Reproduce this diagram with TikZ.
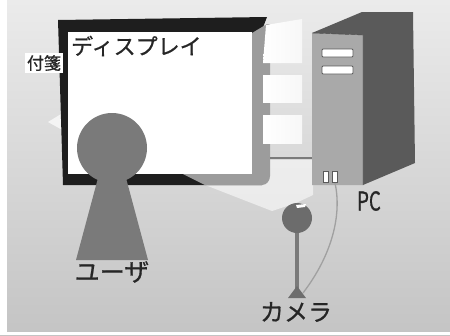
\documentclass[tikz,border=0pt]{standalone}
\usepackage{fontspec}
\setmainfont{Noto Sans CJK JP}[FakeBold=0.7]
\usetikzlibrary{calc}
\definecolor{bgtop}{HTML}{EBEBEB}
\definecolor{bgbot}{HTML}{C4C4C4}
\definecolor{frameblack}{HTML}{1E1E1E}
\definecolor{bandgray}{HTML}{9C9C9C}
\definecolor{figgray}{HTML}{7A7A7A}
\definecolor{camgray}{HTML}{6C6C6C}
\definecolor{pcfront}{HTML}{A9A9A9}
\definecolor{pcside}{HTML}{5A5A5A}
\definecolor{cablegray}{HTML}{A0A0A0}
\tikzset{
  label/.style={inner sep=0pt, text=black!85},
  lightpatch/.style={left color=white, right color=white!60!bgtop},
  cable/.style={draw=cablegray, line width=1.3pt},
}
\begin{document}
\begin{tikzpicture}[x=1pt,y=-1pt]
\useasboundingbox (0,0) rectangle (450,335);
% background
\shade[top color=bgtop, bottom color=bgbot] (0,0) rectangle (450,335);
\fill[white] (0,0) rectangle (7,335);
\fill[white] (0,332) rectangle (450,335);

% light cone seen by the camera
\fill[white, opacity=0.55] (182,176) -- (272,211) -- (296,203) -- (313,195)
  -- (313,160) -- (265,160) -- (265,176) -- cycle;
% light wedge at the sticky note
\fill[white, opacity=0.7] (48,122) -- (66,111) -- (66,132) -- cycle;

% display: black frame, grey depth band, white screen
\fill[frameblack] (58,20) -- (267,17) -- (262,30) -- (262,185) -- (63,185) -- cycle;
\fill[bandgray] (252,33) -- (267,24) -- (270,24) -- (270,176)
  to[out=-90,in=0] (262,185) -- (205,185) -- (183,174) -- (252,174) -- cycle;
\fill[white] (68,32) rectangle (252,174);

% pale patches to the right of the display
\shade[lightpatch] (266,25) -- (302,19) -- (302,63) -- (263,63) -- cycle;
\shade[lightpatch] (263,75) rectangle (302,102);
\shade[lightpatch] (263,115) rectangle (302,143);

% PC tower
\fill[pcside] (312,33) -- (362,12) -- (413,12) -- (415,163) -- (363,185) -- (363,35) -- cycle;
\fill[pcfront] (312,33) -- (363,35) -- (363,185) -- (312,185) -- cycle;
\draw[pcside!70!black, line width=0.4pt] (312,33) -- (363,35) -- (363,185);
\foreach \y in {49,66}
  \draw[fill=white, draw=pcside, line width=0.8pt, rounded corners=1pt] (322,\y) rectangle (353,\y+8);
\draw[fill=white, draw=pcside, line width=0.6pt] (323,171) rectangle (328,182);
\draw[fill=white, draw=pcside, line width=0.6pt] (332,171) rectangle (337,182);
\coordinate (pcin) at (312,158);
\coordinate (pcport) at (335,183);

% display cable
\coordinate (dispout) at (270,158);
\draw[draw=figgray, line width=1.2pt] (dispout) -- (pcin);

% user
\fill[figgray] (98,178) -- (126,178) -- (148,260) -- (76,260) -- cycle;
\fill[figgray] (112,148) circle[radius=35];

% camera
\coordinate (cambase) at (303,293);
\fill[figgray] (295,230) rectangle (299,292);
\fill[figgray!110] (288,298) -- (306,298) -- (297,286) -- cycle;
\fill[camgray] (297,218) circle[radius=15];
\fill[white] (296,205) -- (306,204) -- (305,207) -- (297,208) -- cycle;
\draw[cable] (pcport) .. controls (342,215) and (332,255) .. (cambase);

% labels
\node[label, font=\fontsize{22}{22}\selectfont, anchor=west] (disp) at (71,46) {ディスプレイ};
\node[fill=white, inner sep=2pt, text=black!85, font=\fontsize{17}{17}\selectfont] (note) at (44,63) {付箋};
\node[label, font=\fontsize{26}{26}\selectfont] (pc) at (369,201) {\scalebox{0.72}[1]{PC}};
\node[label, font=\fontsize{25}{25}\selectfont] (user) at (112,272) {ユーザ};
\node[label, font=\fontsize{24}{24}\selectfont] (cam) at (296,312) {カメラ};
\end{tikzpicture}
\end{document}
